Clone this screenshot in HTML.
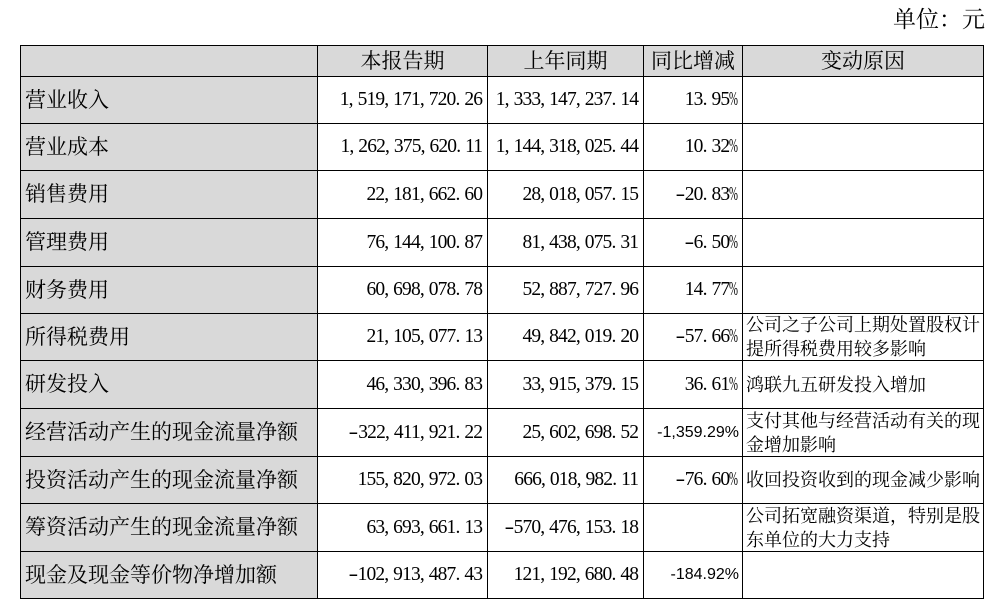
<!DOCTYPE html>
<html>
<head>
<meta charset="utf-8">
<style>
  html,body{margin:0;padding:0;background:#fff;}
  body{width:1004px;height:611px;position:relative;overflow:hidden;}
  .abs{position:absolute;}
  .hl{position:absolute;height:1px;background:#000;left:20px;width:964px;}
  .vl{position:absolute;width:1px;background:#000;top:45px;height:554px;}
  .cell{position:absolute;display:flex;align-items:center;box-sizing:border-box;color:#000;white-space:nowrap;}
  .cjk{font-family:"Liberation Serif","Noto Serif CJK SC",serif;font-size:21px;line-height:1;}
  .hdr{justify-content:center;}
  .lab{padding-left:4px;}
  .num{font-family:"Liberation Serif","Noto Serif CJK SC",serif;font-size:19.5px;line-height:1;justify-content:flex-end;}
  .num span{letter-spacing:-0.85px;padding-right:0.85px;}
  .num b{display:inline-block;width:8.9px;font-weight:normal;letter-spacing:0;text-align:left;}
  .num s{display:inline-block;width:8.9px;text-decoration:none;letter-spacing:0;transform:scaleX(0.55);transform-origin:left center;}
  .num s{margin-right:0;}
  .num u{display:inline-block;width:8.9px;text-decoration:none;letter-spacing:0;text-align:center;transform:scaleX(1.5);}
  .pct{padding-right:7px;}
  .sans{font-family:"Liberation Sans",sans-serif;font-size:16px;line-height:1;justify-content:flex-end;}
  .rsn{font-family:"Liberation Serif","Noto Serif CJK SC",serif;font-size:18px;line-height:24px;padding-left:3px;}
  .gray{position:absolute;background:#d9d9d9;}
</style>
</head>
<body>
<div class="abs cjk" style="right:19px;top:8px;font-size:23px;line-height:23px;">单位：元</div>

<div class="gray" style="left:20px;top:45px;width:963px;height:31px;"></div>
<div class="gray" style="left:20px;top:76px;width:297px;height:522px;"></div>

<div class="hl" style="top:45px"></div>
<div class="hl" style="top:76px"></div>
<div class="hl" style="top:123px"></div>
<div class="hl" style="top:170px"></div>
<div class="hl" style="top:218px"></div>
<div class="hl" style="top:266px"></div>
<div class="hl" style="top:313px"></div>
<div class="hl" style="top:360px"></div>
<div class="hl" style="top:408px"></div>
<div class="hl" style="top:456px"></div>
<div class="hl" style="top:503px"></div>
<div class="hl" style="top:551px"></div>
<div class="hl" style="top:598px"></div>
<div class="vl" style="left:20px"></div>
<div class="vl" style="left:317px"></div>
<div class="vl" style="left:487px"></div>
<div class="vl" style="left:643px"></div>
<div class="vl" style="left:742px"></div>
<div class="vl" style="left:983px"></div>

<div class="cell cjk hdr" style="left:318px;width:169px;top:46px;height:30px;">本报告期</div>
<div class="cell cjk hdr" style="left:488px;width:155px;top:46px;height:30px;">上年同期</div>
<div class="cell cjk hdr" style="left:644px;width:98px;top:46px;height:30px;">同比增减</div>
<div class="cell cjk hdr" style="left:743px;width:240px;top:46px;height:30px;">变动原因</div>

<!-- row 1 -->
<div class="cell cjk lab" style="left:21px;width:296px;top:77px;height:46px;">营业收入</div>
<div class="cell num" style="left:318px;width:165px;top:77px;height:46px;"><span>1<b>,</b>519<b>,</b>171<b>,</b>720<b>.</b>26</span></div>
<div class="cell num" style="left:488px;width:151px;top:77px;height:46px;"><span>1<b>,</b>333<b>,</b>147<b>,</b>237<b>.</b>14</span></div>
<div class="cell num" style="left:644px;width:95px;top:77px;height:46px;"><span>13<b>.</b>95<s>%</s></span></div>

<!-- row 2 -->
<div class="cell cjk lab" style="left:21px;width:296px;top:124px;height:46px;">营业成本</div>
<div class="cell num" style="left:318px;width:165px;top:124px;height:46px;"><span>1<b>,</b>262<b>,</b>375<b>,</b>620<b>.</b>11</span></div>
<div class="cell num" style="left:488px;width:151px;top:124px;height:46px;"><span>1<b>,</b>144<b>,</b>318<b>,</b>025<b>.</b>44</span></div>
<div class="cell num" style="left:644px;width:95px;top:124px;height:46px;"><span>10<b>.</b>32<s>%</s></span></div>

<!-- row 3 -->
<div class="cell cjk lab" style="left:21px;width:296px;top:171px;height:47px;">销售费用</div>
<div class="cell num" style="left:318px;width:165px;top:171px;height:47px;"><span>22<b>,</b>181<b>,</b>662<b>.</b>60</span></div>
<div class="cell num" style="left:488px;width:151px;top:171px;height:47px;"><span>28<b>,</b>018<b>,</b>057<b>.</b>15</span></div>
<div class="cell num" style="left:644px;width:95px;top:171px;height:47px;"><span><u>-</u>20<b>.</b>83<s>%</s></span></div>

<!-- row 4 -->
<div class="cell cjk lab" style="left:21px;width:296px;top:219px;height:47px;">管理费用</div>
<div class="cell num" style="left:318px;width:165px;top:219px;height:47px;"><span>76<b>,</b>144<b>,</b>100<b>.</b>87</span></div>
<div class="cell num" style="left:488px;width:151px;top:219px;height:47px;"><span>81<b>,</b>438<b>,</b>075<b>.</b>31</span></div>
<div class="cell num" style="left:644px;width:95px;top:219px;height:47px;"><span><u>-</u>6<b>.</b>50<s>%</s></span></div>

<!-- row 5 -->
<div class="cell cjk lab" style="left:21px;width:296px;top:267px;height:46px;">财务费用</div>
<div class="cell num" style="left:318px;width:165px;top:267px;height:46px;"><span>60<b>,</b>698<b>,</b>078<b>.</b>78</span></div>
<div class="cell num" style="left:488px;width:151px;top:267px;height:46px;"><span>52<b>,</b>887<b>,</b>727<b>.</b>96</span></div>
<div class="cell num" style="left:644px;width:95px;top:267px;height:46px;"><span>14<b>.</b>77<s>%</s></span></div>

<!-- row 6 -->
<div class="cell cjk lab" style="left:21px;width:296px;top:314px;height:46px;">所得税费用</div>
<div class="cell num" style="left:318px;width:165px;top:314px;height:46px;"><span>21<b>,</b>105<b>,</b>077<b>.</b>13</span></div>
<div class="cell num" style="left:488px;width:151px;top:314px;height:46px;"><span>49<b>,</b>842<b>,</b>019<b>.</b>20</span></div>
<div class="cell num" style="left:644px;width:95px;top:314px;height:46px;"><span><u>-</u>57<b>.</b>66<s>%</s></span></div>
<div class="cell rsn" style="left:743px;width:240px;top:314px;height:46px;">公司之子公司上期处置股权计<br>提所得税费用较多影响</div>

<!-- row 7 -->
<div class="cell cjk lab" style="left:21px;width:296px;top:361px;height:47px;">研发投入</div>
<div class="cell num" style="left:318px;width:165px;top:361px;height:47px;"><span>46<b>,</b>330<b>,</b>396<b>.</b>83</span></div>
<div class="cell num" style="left:488px;width:151px;top:361px;height:47px;"><span>33<b>,</b>915<b>,</b>379<b>.</b>15</span></div>
<div class="cell num" style="left:644px;width:95px;top:361px;height:47px;"><span>36<b>.</b>61<s>%</s></span></div>
<div class="cell rsn" style="left:743px;width:240px;top:361px;height:47px;">鸿联九五研发投入增加</div>

<!-- row 8 -->
<div class="cell cjk lab" style="left:21px;width:296px;top:409px;height:47px;">经营活动产生的现金流量净额</div>
<div class="cell num" style="left:318px;width:165px;top:409px;height:47px;"><span><u>-</u>322<b>,</b>411<b>,</b>921<b>.</b>22</span></div>
<div class="cell num" style="left:488px;width:151px;top:409px;height:47px;"><span>25<b>,</b>602<b>,</b>698<b>.</b>52</span></div>
<div class="cell sans" style="left:644px;width:95px;top:409px;height:47px;">-1,359.29%</div>
<div class="cell rsn" style="left:743px;width:240px;top:409px;height:47px;">支付其他与经营活动有关的现<br>金增加影响</div>

<!-- row 9 -->
<div class="cell cjk lab" style="left:21px;width:296px;top:457px;height:46px;">投资活动产生的现金流量净额</div>
<div class="cell num" style="left:318px;width:165px;top:457px;height:46px;"><span>155<b>,</b>820<b>,</b>972<b>.</b>03</span></div>
<div class="cell num" style="left:488px;width:151px;top:457px;height:46px;"><span>666<b>,</b>018<b>,</b>982<b>.</b>11</span></div>
<div class="cell num" style="left:644px;width:95px;top:457px;height:46px;"><span><u>-</u>76<b>.</b>60<s>%</s></span></div>
<div class="cell rsn" style="left:743px;width:240px;top:457px;height:46px;">收回投资收到的现金减少影响</div>

<!-- row 10 -->
<div class="cell cjk lab" style="left:21px;width:296px;top:504px;height:47px;">筹资活动产生的现金流量净额</div>
<div class="cell num" style="left:318px;width:165px;top:504px;height:47px;"><span>63<b>,</b>693<b>,</b>661<b>.</b>13</span></div>
<div class="cell num" style="left:488px;width:151px;top:504px;height:47px;"><span><u>-</u>570<b>,</b>476<b>,</b>153<b>.</b>18</span></div>
<div class="cell rsn" style="left:743px;width:240px;top:504px;height:47px;">公司拓宽融资渠道，特别是股<br>东单位的大力支持</div>

<!-- row 11 -->
<div class="cell cjk lab" style="left:21px;width:296px;top:552px;height:46px;">现金及现金等价物净增加额</div>
<div class="cell num" style="left:318px;width:165px;top:552px;height:46px;"><span><u>-</u>102<b>,</b>913<b>,</b>487<b>.</b>43</span></div>
<div class="cell num" style="left:488px;width:151px;top:552px;height:46px;"><span>121<b>,</b>192<b>,</b>680<b>.</b>48</span></div>
<div class="cell sans" style="left:644px;width:95px;top:552px;height:46px;">-184.92%</div>
</body>
</html>
